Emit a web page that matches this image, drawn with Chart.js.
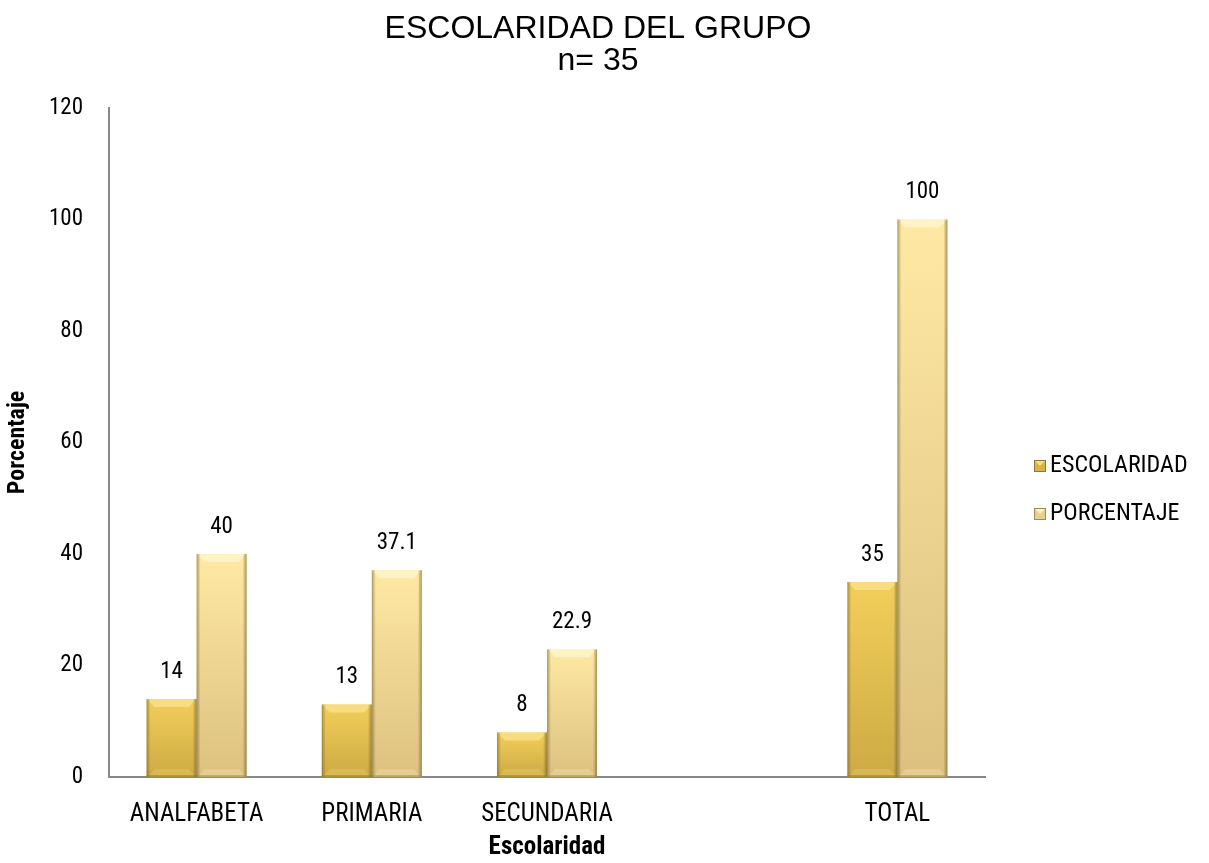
<!DOCTYPE html>
<html><head><meta charset="utf-8">
<script src="https://cdn.jsdelivr.net/npm/chart.js@4/dist/chart.umd.min.js"></script>
<style>html,body{margin:0;padding:0;background:#fff}#wrap{width:1209px;height:863px}</style>
</head><body><div id="wrap"><canvas id="c" width="1209" height="863"></canvas></div>
<script>
const chartTitle = ['ESCOLARIDAD DEL GRUPO', 'n= 35'];
const categories = ['ANALFABETA', 'PRIMARIA', 'SECUNDARIA', '', 'TOTAL'];
const escolaridad = [14, 13, 8, null, 35];
const porcentaje = [40, 37.1, 22.9, null, 100];
const seriesNames = ['ESCOLARIDAD', 'PORCENTAJE'];
const yTicks = [0, 20, 40, 60, 80, 100, 120];
const xAxisTitle = 'Escolaridad';
const yAxisTitle = 'Porcentaje';

const NARROW = '"Roboto Condensed", "DejaVu Sans Condensed", sans-serif';
const palettes = [
  {top:'#F2CF5A', bottom:'#CDAA44', light:'#F7DE85', dark:'#8F7A35', swatch:'#D9B444'},
  {top:'#FEE9A3', bottom:'#DCC07F', light:'#FFF3C9', dark:'#9E8B58', swatch:'#EAD08E'}
];

function grad(ctx, i){
  const chart = ctx.chart;
  const ys = chart.scales && chart.scales.y;
  if(!ys || ctx.type !== 'data' || ctx.raw == null) return palettes[i].top;
  const t = ys.getPixelForValue(ctx.raw), b = ys.getPixelForValue(0);
  if(!isFinite(t) || !isFinite(b) || b - t < 1) return palettes[i].top;
  const g = chart.ctx.createLinearGradient(0, t, 0, b);
  g.addColorStop(0, palettes[i].top); g.addColorStop(1, palettes[i].bottom);
  return g;
}

const bevel = {
  id:'bevel',
  afterDatasetsDraw(chart){
    const c = chart.ctx;
    chart.data.datasets.forEach((ds, di)=>{
      const meta = chart.getDatasetMeta(di);
      meta.data.forEach((b, i)=>{
        if(ds.data[i]==null) return;
        const p = b.getProps(['x','y','width','base'], true);
        const l = p.x - p.width/2, r = p.x + p.width/2, t = p.y, bt = p.base;
        const e = Math.min(8, (bt-t)/2);
        const pal = palettes[di];
        c.save();
        c.fillStyle = pal.light; c.globalAlpha = 0.9;
        c.beginPath(); c.moveTo(l,t); c.lineTo(r,t); c.lineTo(r-e,t+e); c.lineTo(l+e,t+e); c.closePath(); c.fill();
        let g = c.createLinearGradient(l,0,l+4,0);
        g.addColorStop(0,'rgba(110,90,40,0.55)'); g.addColorStop(1,'rgba(110,90,40,0)');
        c.globalAlpha = 1; c.fillStyle = g; c.fillRect(l, t, 4, bt-t);
        g = c.createLinearGradient(r-4,0,r,0);
        g.addColorStop(0,'rgba(110,90,40,0)'); g.addColorStop(1,'rgba(110,90,40,0.6)');
        c.fillStyle = g; c.fillRect(r-4, t, 4, bt-t);
        c.globalAlpha = 0.25; c.fillStyle = pal.light;
        c.beginPath(); c.moveTo(l+2,bt-1); c.lineTo(r-2,bt-1); c.lineTo(r-e,bt-e); c.lineTo(l+e,bt-e); c.closePath(); c.fill();
        c.globalAlpha = 0.5; c.fillStyle = pal.dark; c.fillRect(l, bt-2, p.width, 2);
        c.restore();
        c.save();
        c.fillStyle = '#000'; c.font = '23px ' + NARROW;
        c.textAlign = 'center'; c.textBaseline = 'middle';
        c.fillText(String(ds.data[i]), p.x, t - 27);
        c.restore();
      });
    });
  }
};

const titleAndLegend = {
  id:'titleAndLegend',
  afterDraw(chart){
    const c = chart.ctx;
    c.save();
    c.fillStyle = '#000'; c.font = '32px "Liberation Sans", Arial, sans-serif';
    c.textAlign = 'center'; c.textBaseline = 'middle';
    chartTitle.forEach((s, k)=> c.fillText(s, 598, 29 + k*32));
    c.restore();
    const x0 = 1034, ys = [466, 514];
    chart.data.datasets.forEach((ds, di)=>{
      const y = ys[di]; const pal = palettes[di];
      c.save();
      c.fillStyle = pal.swatch; c.fillRect(x0, y-6, 12, 12);
      c.fillStyle = pal.light;
      c.beginPath(); c.moveTo(x0,y-6); c.lineTo(x0+12,y-6); c.lineTo(x0+6,y); c.closePath(); c.fill();
      c.strokeStyle = pal.dark; c.lineWidth = 1; c.strokeRect(x0+0.5, y-5.5, 11, 11);
      c.fillStyle = '#000'; c.font = '24px ' + NARROW;
      c.textAlign = 'left'; c.textBaseline = 'middle';
      c.fillText(ds.label, x0 + 16, y);
      c.restore();
    });
  }
};

new Chart(document.getElementById('c'), {
  type:'bar',
  data:{
    labels: categories,
    datasets:[
      {label: seriesNames[0], data: escolaridad, backgroundColor: ctx=>grad(ctx,0), borderWidth:0},
      {label: seriesNames[1], data: porcentaje, backgroundColor: ctx=>grad(ctx,1), borderWidth:0}
    ]
  },
  options:{
    responsive:false, animation:false,
    layout:{padding:{left:4, right:224, top:108, bottom:0}},
    datasets:{bar:{categoryPercentage:0.571, barPercentage:1.0}},
    plugins:{ legend:{display:false}, tooltip:{enabled:false}, title:{display:false} },
    scales:{
      x:{
        afterFit(s){ s.height = 86; },
        grid:{display:false, drawTicks:false},
        border:{display:true, color:'#888', width:2},
        ticks:{color:'#000', font:{family:NARROW, size:25}, padding:23, maxRotation:0, autoSkip:false},
        title:{display:true, text:xAxisTitle, color:'#000', font:{family:NARROW, size:25, weight:'bold'}, padding:0}
      },
      y:{
        min:0, max:120,
        afterFit(s){ s.width = 105; },
        afterBuildTicks(s){ s.ticks = yTicks.map(v=>({value:v})); },
        grid:{display:false, drawOnChartArea:false, drawTicks:true, tickLength:9, tickColor:'#888', tickWidth:2},
        border:{display:true, color:'#888', width:2},
        ticks:{color:'#000', font:{family:NARROW, size:23}, padding:17},
        title:{display:true, text:yAxisTitle, color:'#000', font:{family:NARROW, size:24, weight:'bold'}, padding:0}
      }
    }
  },
  plugins:[bevel, titleAndLegend]
});
</script>
</body></html>
